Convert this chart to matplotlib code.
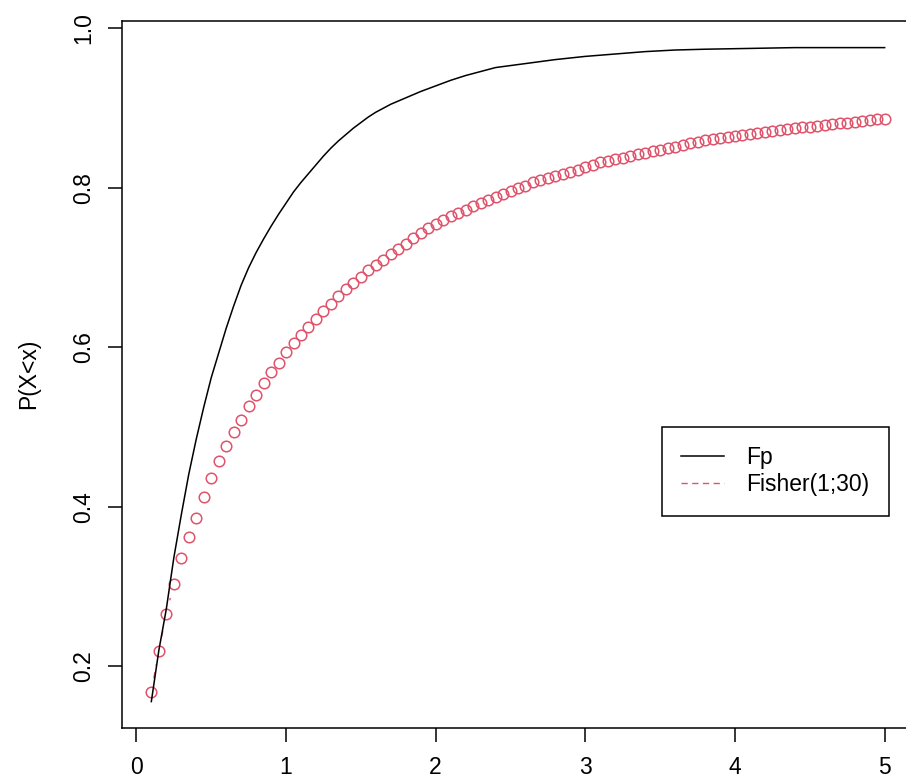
import numpy as np
import matplotlib
matplotlib.use("Agg")
import matplotlib.pyplot as plt
from matplotlib.lines import Line2D

# ---- data ----
fisher_x = np.round(np.arange(0.10, 5.0001, 0.05), 2)
fisher_y = [0.168, 0.220, 0.266, 0.303, 0.336, 0.362, 0.386, 0.413, 0.436, 0.458,
            0.476, 0.494, 0.509, 0.527, 0.541, 0.555, 0.569, 0.581, 0.594, 0.605,
            0.616, 0.626, 0.636, 0.646, 0.655, 0.664, 0.673, 0.681, 0.689, 0.697,
            0.704, 0.710, 0.717, 0.724, 0.730, 0.737, 0.743, 0.750, 0.755, 0.760,
            0.765, 0.769, 0.773, 0.777, 0.781, 0.785, 0.789, 0.793, 0.796, 0.800,
            0.803, 0.807, 0.810, 0.813, 0.815, 0.818, 0.820, 0.823, 0.826, 0.829,
            0.832, 0.834, 0.836, 0.838, 0.840, 0.842, 0.844, 0.846, 0.848, 0.850,
            0.852, 0.854, 0.856, 0.858, 0.860, 0.862, 0.863, 0.864, 0.865, 0.867,
            0.868, 0.869, 0.870, 0.872, 0.873, 0.874, 0.875, 0.876, 0.877, 0.878,
            0.879, 0.880, 0.881, 0.882, 0.883, 0.884, 0.885, 0.886, 0.887]

fp_x = [0.1, 0.15, 0.2, 0.25, 0.3, 0.35, 0.4, 0.45, 0.5, 0.55, 0.6, 0.65, 0.7,
        0.75, 0.8, 0.85, 0.9, 0.95, 1.0, 1.05, 1.1, 1.15, 1.2, 1.25, 1.3, 1.35,
        1.4, 1.45, 1.5, 1.55, 1.6, 1.7, 1.8, 1.9, 2.0, 2.1, 2.2, 2.3, 2.4, 2.6,
        2.8, 3.0, 3.2, 3.4, 3.6, 3.8, 4.1, 4.4, 5.0]
fp_y = [0.156, 0.220, 0.272, 0.336, 0.390, 0.441, 0.485, 0.525, 0.562, 0.593,
        0.624, 0.652, 0.678, 0.700, 0.719, 0.736, 0.752, 0.767, 0.781, 0.795,
        0.807, 0.818, 0.829, 0.840, 0.850, 0.859, 0.867, 0.875, 0.882, 0.889,
        0.895, 0.905, 0.913, 0.921, 0.928, 0.935, 0.941, 0.946, 0.951, 0.956,
        0.961, 0.965, 0.968, 0.971, 0.973, 0.974, 0.975, 0.976, 0.976]

legend_labels = ["Fp", "Fisher(1;30)"]
x_ticks = [0, 1, 2, 3, 4, 5]
y_ticks = [0.2, 0.4, 0.6, 0.8, 1.0]
y_ticklabels = ["0.2", "0.4", "0.6", "0.8", "1.0"]
ylabel = "P(X<x)"

# ---- style ----
RED = "#DF536B"
FS = 16.5
plt.rcParams["font.family"] = ["Liberation Sans", "DejaVu Sans"]

W, H = 906, 781
fig = plt.figure(figsize=(W / 100, H / 100), dpi=100)
ax = fig.add_axes([122 / W, (H - 728.3) / H, 792 / W, 707.4 / H])
ax.set_xlim(-0.096, 5.196)
ax.set_ylim(0.1225, 1.0095)

for s in ax.spines.values():
    s.set_linewidth(1.1)
    s.set_color("black")

ax.set_xticks(x_ticks)
ax.set_xticklabels([str(t) for t in x_ticks])
ax.set_yticks(y_ticks)
ax.set_yticklabels(y_ticklabels, rotation=90, va="center")
ax.tick_params(axis="both", direction="out", length=10, width=1.1,
               labelsize=FS, colors="black")
ax.tick_params(axis="x", pad=10)
ax.tick_params(axis="y", pad=9)

# Fisher: points with gapped dashed segments (R type="b", lty=2)
ax.plot(fisher_x, fisher_y, linestyle="none", marker="o", ms=7.6,
        mfc="none", mec=RED, mew=1.1, zorder=2)

fig.canvas.draw()
pts = ax.transData.transform(np.column_stack([fisher_x, fisher_y]))
inv = ax.transData.inverted()
gap = 14.0
for p1, p2 in zip(pts[:-1], pts[1:]):
    d = p2 - p1
    L = np.hypot(*d)
    if L > 2 * gap + 1:
        u = d / L
        a = inv.transform(p1 + u * gap)
        b = inv.transform(p2 - u * gap)
        ax.add_line(Line2D([a[0], b[0]], [a[1], b[1]], color=RED, lw=1.0,
                           dashes=(4.5, 4.5), zorder=2))

# Fp line
ax.plot(fp_x, fp_y, color="black", lw=1.1, zorder=3)

fig.text(29 / W, 1 - 374 / H, ylabel, rotation=90, ha="center", va="center",
         fontsize=FS)

handles = [Line2D([], [], color="black", lw=1.1),
           Line2D([], [], color=RED, lw=1.0, dashes=(4.5, 3.2))]
leg = ax.legend(handles, legend_labels, loc="upper left",
                bbox_to_anchor=((661.7 - 122) / 792, (728.3 - 426.7) / 707.4),
                borderaxespad=0, fontsize=FS, frameon=True, fancybox=False,
                edgecolor="black", framealpha=1, borderpad=0.85,
                handlelength=1.88, handletextpad=0.95, labelspacing=0.17)
leg.get_frame().set_linewidth(1.1)

fig.savefig("out.png", dpi=100)
